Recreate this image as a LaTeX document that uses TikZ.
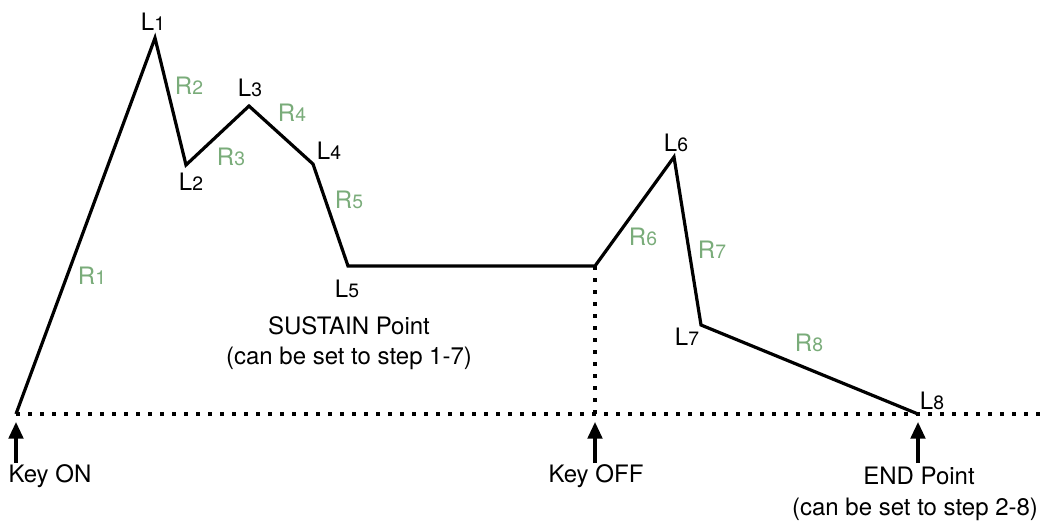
\documentclass[tikz,border=0pt]{standalone}
\usepackage{fontspec}
\setmainfont{TeX Gyre Heros}
\usetikzlibrary{arrows.meta}
\definecolor{rgreen}{RGB}{122,172,122}
\newcommand{\sub}[1]{{\fontsize{14.5}{14.5}\selectfont #1}}
\tikzset{
  env/.style={line width=2.4pt, line join=miter},
  dotline/.style={line width=2.3pt, dash pattern=on 3.2pt off 5.8pt},
  lvl/.style={font=\fontsize{18}{20}\selectfont, inner sep=0pt},
  rate/.style={font=\fontsize{18}{20}\selectfont, text=rgreen, inner sep=0pt},
  lab/.style={font=\fontsize{18}{22}\selectfont, inner sep=0pt, align=center},
  up/.style={line width=2.3pt, -{Triangle[length=12.5pt,width=11pt]}}
}
\begin{document}
\begin{tikzpicture}[x=0.75pt,y=-0.75pt]
\useasboundingbox (0,0) rectangle (1046,524);
% envelope points
\coordinate (S) at (16,414);
\coordinate (P1) at (155,38);
\coordinate (P2) at (186,165);
\coordinate (P3) at (249,106);
\coordinate (P4) at (313,164);
\coordinate (P5) at (348,266);
\coordinate (OFF) at (595,266);
\coordinate (P6) at (674,157);
\coordinate (P7) at (701,325);
\coordinate (P8) at (918,414);
\coordinate (BOFF) at (595,414);
\coordinate (BEND) at (1046,414);
% baseline and key off drop
\draw[dotline] (S) -- (BEND);
\draw[dotline] (OFF) -- (BOFF);
% envelope
\draw[env] (S) -- (P1) -- (P2) -- (P3) -- (P4) -- (P5) -- (OFF) -- (P6) -- (P7) -- (P8);
% level labels
\node[lvl] (l1) at (153,22) {L\sub{1}};
\node[lvl] (l2) at (191,182) {L\sub{2}};
\node[lvl] (l3) at (250,88) {L\sub{3}};
\node[lvl] (l4) at (329,151) {L\sub{4}};
\node[lvl] (l5) at (347,289) {L\sub{5}};
\node[lvl] (l6) at (676,143) {L\sub{6}};
\node[lvl] (l7) at (687,337) {L\sub{7}};
\node[lvl] (l8) at (932,401) {L\sub{8}};
% rate labels
\node[rate] (r1) at (92,276) {R\sub{1}};
\node[rate] (r2) at (189,86) {R\sub{2}};
\node[rate] (r3) at (231,157) {R\sub{3}};
\node[rate] (r4) at (292,113) {R\sub{4}};
\node[rate] (r5) at (349,200) {R\sub{5}};
\node[rate] (r6) at (643,237) {R\sub{6}};
\node[rate] (r7) at (712,250) {R\sub{7}};
\node[rate] (r8) at (809,343) {R\sub{8}};
% other labels
\node[lab] (sus) at (349,343) {SUSTAIN Point\\(can be set to step 1-7)};
\node[lab] (kon) at (50,476) {Key ON};
\node[lab] (koff) at (596,476) {Key OFF};
\node[lab] (endp) at (919,476) {END Point};
\node[lab] (endn) at (915,509) {(can be set to step 2-8)};
% arrows
\coordinate (a1s) at (16,463); \coordinate (a1e) at (16,422);
\coordinate (a2s) at (595,463); \coordinate (a2e) at (595,422);
\coordinate (a3s) at (918,463); \coordinate (a3e) at (918,422);
\draw[up] (a1s) -- (a1e);
\draw[up] (a2s) -- (a2e);
\draw[up] (a3s) -- (a3e);
\end{tikzpicture}
\end{document}
